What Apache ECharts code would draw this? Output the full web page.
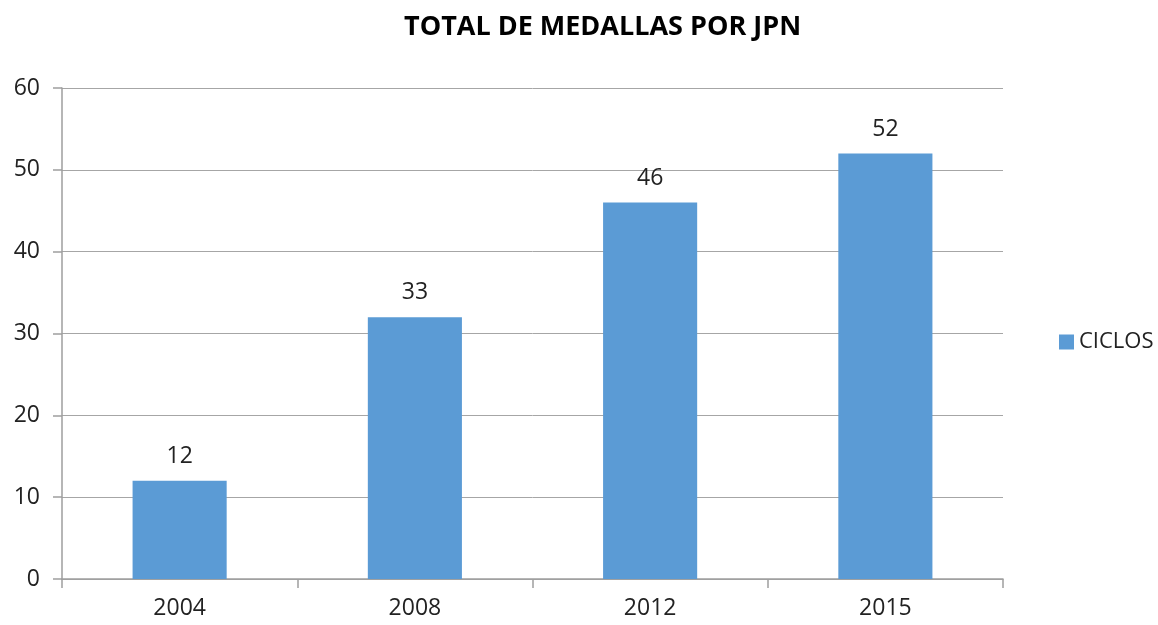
<!DOCTYPE html>
<html>
<head>
<meta charset="utf-8">
<script src="https://cdn.jsdelivr.net/npm/echarts@6/dist/echarts.min.js"></script>
<style>
	html, body { margin: 0; padding: 0; background: #fff; }
	#chart { width: 1158px; height: 625px; }
</style>
</head>
<body>
<div id="chart"></div>
<script type="text/javascript">
var years = ['2004', '2008', '2012', '2015'];
var medallas = [12, 32, 46, 52];
var etiquetas = ['12', '33', '46', '52'];
var yTicks = [0, 10, 20, 30, 40, 50, 60];

var myChart = echarts.init(document.getElementById('chart'));
var font = '"Open Sans", "Liberation Sans", sans-serif';
var option = {
	animation: false,
	title: {
		text: 'TOTAL DE MEDALLAS POR JPN',
		left: 399,
		top: 9,
		textStyle: { fontFamily: font, fontSize: 27, fontWeight: 'bold', color: '#000' }
	},
	legend: {
		orient: 'vertical',
		left: 1054,
		top: 326,
		itemWidth: 15,
		itemHeight: 15,
		itemGap: 6,
		icon: 'rect',
		textStyle: { fontFamily: font, fontSize: 22, color: '#222' },
		data: ['CICLOS']
	},
	grid: { left: 62, right: 155, top: 88, bottom: 46 },
	xAxis: {
		type: 'category',
		data: years,
		axisLine: { lineStyle: { color: '#9e9e9e', width: 1.5 } },
		axisTick: { show: true, length: 9, interval: 0, lineStyle: { color: '#9e9e9e', width: 1.5 } },
		axisLabel: { fontFamily: font, fontSize: 23, color: '#222', margin: 18 }
	},
	yAxis: {
		type: 'value',
		min: yTicks[0],
		max: yTicks[yTicks.length - 1],
		interval: 10,
		axisLine: { show: true, lineStyle: { color: '#9e9e9e', width: 1.5 } },
		axisTick: { show: true, length: 9, lineStyle: { color: '#9e9e9e', width: 1.5 } },
		axisLabel: { fontFamily: font, fontSize: 23, color: '#222', margin: 22 },
		splitLine: { lineStyle: { color: '#a6a6a6', width: 1 } }
	},
	series: [{
		name: 'CICLOS',
		type: 'bar',
		data: medallas,
		barWidth: '40%',
		itemStyle: { color: '#5b9bd5' },
		label: {
			show: true,
			position: 'top',
			distance: 13,
			fontFamily: font,
			fontSize: 23,
			color: '#222',
			formatter: function (p) { return etiquetas[p.dataIndex]; }
		}
	}]
};
myChart.setOption(option);
</script>
</body>
</html>
